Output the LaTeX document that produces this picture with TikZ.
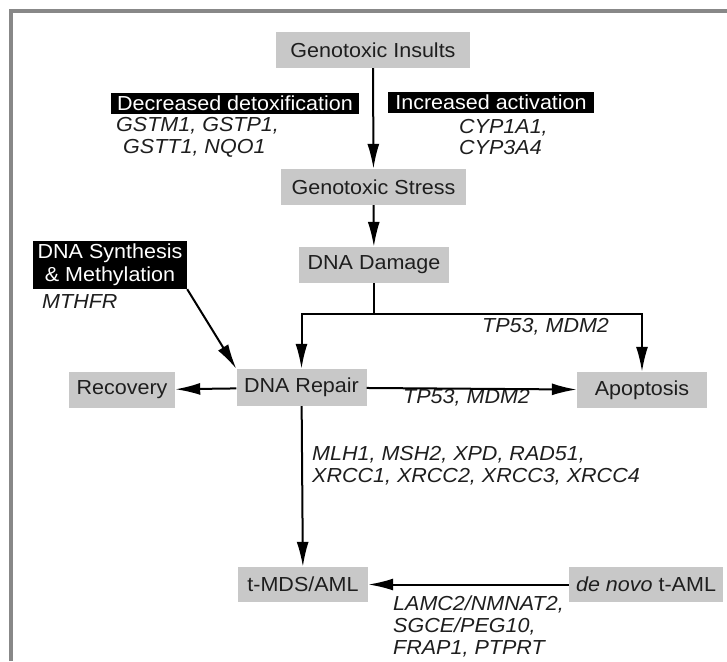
\documentclass[tikz,border=0pt]{standalone}
\usepackage{fontspec}
\setmainfont{Liberation Sans}[FakeStretch=1.06]
\usepackage{tikz}
\usetikzlibrary{arrows.meta}
\definecolor{boxgray}{HTML}{C8C8C8}
\definecolor{framegray}{HTML}{888888}
\definecolor{inkgray}{HTML}{1E1E1E}

\begin{document}
\begin{tikzpicture}[x=1pt,y=-1pt,
    every node/.style={font=\fontsize{20.3}{21.6}\selectfont, text=inkgray},
    box/.style={fill=boxgray, minimum height=36, inner sep=0},
    darkbox/.style={fill=black, text=white, inner sep=0, align=center},
    genes/.style={font=\fontsize{20.3}{21.6}\selectfont\itshape, align=left, inner sep=0, anchor=west},
    arr/.style={line width=2pt, draw=black, -{Latex[length=25, width=12]}}]
    \useasboundingbox (0,0) rectangle (727,661);
    \draw[framegray, line width=3.6pt] (10.8,661) -- (10.8,11.3) -- (727,11.3);
    % main column
    \node[box, minimum width=194] (insults) at (373,50) {Genotoxic Insults};
    \node[box, minimum width=185] (stress) at (373.5,187) {Genotoxic Stress};
    \node[box, minimum width=150] (damage) at (374,265) {DNA Damage};
    \node[box, minimum width=130, minimum height=37] (repair) at (301.5,387.5) {DNA Repair};
    \node[box, minimum width=106] (recovery) at (122,390) {Recovery};
    \node[box, minimum width=130] (apoptosis) at (642,390) {Apoptosis};
    \node[box, minimum width=130, minimum height=35] (tmds) at (303,584.5) {t-MDS/AML};
    \node[box, minimum width=154, minimum height=35] (denovo) at (646,584.5) {\textit{de novo} t-AML};
    % black labels
    \node[darkbox, minimum width=248, minimum height=21] (detox) at (235,103) {Decreased detoxification};
    \node[darkbox, minimum width=206, minimum height=21] (activ) at (491,102.5) {Increased activation};
    \node[darkbox, minimum width=154, minimum height=48] (synth) at (110,265) {DNA Synthesis\\[1pt]\& Methylation};
    % gene lists
    \node[genes] (detoxgenes) at (116,137.5) {GSTM1, GSTP1,\\\hspace*{7pt}GSTT1, NQO1};
    \node[genes] (activgenes) at (459,137) {CYP1A1,\\CYP3A4};
    \node[genes] (mthfr) at (42,302) {MTHFR};
    \node[genes] (tpup) at (482,327) {TP53, MDM2};
    \node[genes] (tplow) at (403,398) {TP53, MDM2};
    \node[genes] (repgenes) at (312,466) {MLH1, MSH2, XPD, RAD51,\\XRCC1, XRCC2, XRCC3, XRCC4};
    \node[genes] (amlgenes) at (393,626.5) {LAMC2/NMNAT2,\\SGCE/PEG10,\\FRAP1, PTPRT};
    % connectors
    \coordinate (split) at (374,314);
    \draw[arr] (insults) -- (stress);
    \draw[arr] (stress) -- (damage);
    \draw[line width=2pt] (damage.south) -- (split);
    \draw[arr] (split) -| (repair.north);
    \draw[arr] (split) -| (apoptosis.north);
    \draw[arr] (synth.south east) -- (repair.north west);
    \draw[arr] (repair) -- (recovery);
    \draw[arr] (repair) -- (apoptosis);
    \draw[arr] (repair) -- (tmds);
    \draw[arr] (denovo) -- (tmds);
\end{tikzpicture}
\end{document}
